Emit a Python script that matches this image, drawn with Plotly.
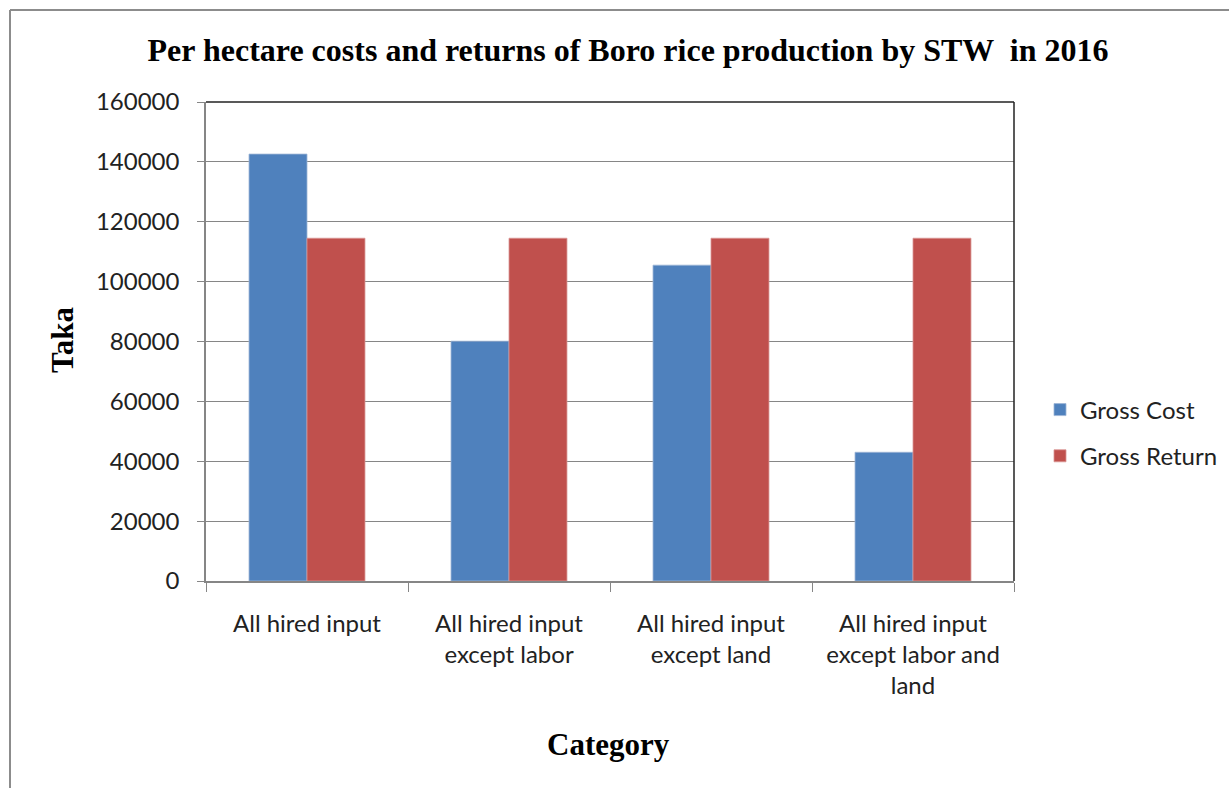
import plotly.graph_objects as go

categories = ["All hired input", "All hired input<br>except labor", "All hired input<br>except land", "All hired input<br>except labor and<br>land"]
gross_cost = [142600, 80100, 105500, 43000]
gross_return = [114500, 114500, 114500, 114500]
y_ticks = [0, 20000, 40000, 60000, 80000, 100000, 120000, 140000, 160000]

W, H = 1229, 788
L, R, T, B = 206, 1014, 102, 581

def px_x(p):
    return (p - L) / (R - L)

def px_y(p):
    return (B - p) / (B - T)

fig = go.Figure()
fig.add_trace(go.Bar(x=categories, y=gross_cost, name="Gross Cost",
                     marker=dict(color="#4F81BD", line=dict(color="#9DB5D6", width=0.8)),
                     legendgroup="a"))
fig.add_trace(go.Bar(x=categories, y=gross_return, name="Gross Return",
                     marker=dict(color="#C0504D", line=dict(color="#D99694", width=0.8)),
                     legendgroup="b"))

tickfont = dict(family="Lato, Open Sans, sans-serif", size=24, color="#222222")
serif = "Liberation Serif, Times New Roman, serif"

fig.update_layout(
    width=W, height=H,
    margin=dict(l=L, r=W - R, t=T, b=H - B, autoexpand=False),
    paper_bgcolor="white", plot_bgcolor="white",
    barmode="group", bargap=0.426, bargroupgap=0,
    showlegend=True,
    legend=dict(x=px_x(1040), y=px_y(433), xanchor="left", yanchor="middle",
                font=dict(family="Lato, Open Sans, sans-serif", size=24, color="#222222"),
                traceorder="grouped", tracegroupgap=12, bgcolor="rgba(0,0,0,0)"),
    xaxis=dict(type="category", tickfont=tickfont, ticks="outside", tickson="boundaries",
               ticklen=9, tickcolor="#868686", showline=True, linecolor="#868686", linewidth=1.5,
               showgrid=False, ticklabelstandoff=20),
    yaxis=dict(range=[0, 160000], tickvals=y_ticks, ticktext=[str(v) for v in y_ticks],
               tickfont=tickfont, ticks="outside", ticklen=7, tickcolor="#868686",
               showline=True, linecolor="#868686", linewidth=1.5,
               showgrid=True, gridcolor="#868686", gridwidth=1.3, zeroline=False,
               ticklabelstandoff=13),
    title=dict(text="<b>Per hectare costs and returns of Boro rice production by STW  in 2016</b>",
               x=628 / W, y=1 - 50 / H, xanchor="center", yanchor="middle", xref="container", yref="container",
               font=dict(family=serif, size=32, color="black")),
)

# plot area top/right frame
fig.add_shape(type="line", xref="x domain", yref="y domain", x0=0, x1=1, y0=1, y1=1,
              line=dict(color="#222222", width=1.5))
fig.add_shape(type="line", xref="x domain", yref="y domain", x0=1, x1=1, y0=0, y1=1,
              line=dict(color="#222222", width=1.5))

# outer chart border
fig.add_shape(type="line", xref="paper", yref="paper", x0=px_x(10), x1=px_x(1240), y0=px_y(10), y1=px_y(10),
              line=dict(color="#8C8C8C", width=2))
fig.add_shape(type="line", xref="paper", yref="paper", x0=px_x(10), x1=px_x(10), y0=px_y(10), y1=px_y(800),
              line=dict(color="#8C8C8C", width=2))

fig.add_annotation(text="<b>Taka</b>", xref="paper", yref="paper", x=px_x(62), y=px_y(340),
                   textangle=-90, showarrow=False, xanchor="center", yanchor="middle",
                   font=dict(family=serif, size=31, color="black"))
fig.add_annotation(text="<b>Category</b>", xref="paper", yref="paper", x=px_x(608), y=px_y(744),
                   showarrow=False, xanchor="center", yanchor="middle",
                   font=dict(family=serif, size=31, color="black"))

fig.write_html("out.html", config={"displayModeBar": False},
               post_script="document.body.style.margin='0';document.body.style.overflow='hidden';")
